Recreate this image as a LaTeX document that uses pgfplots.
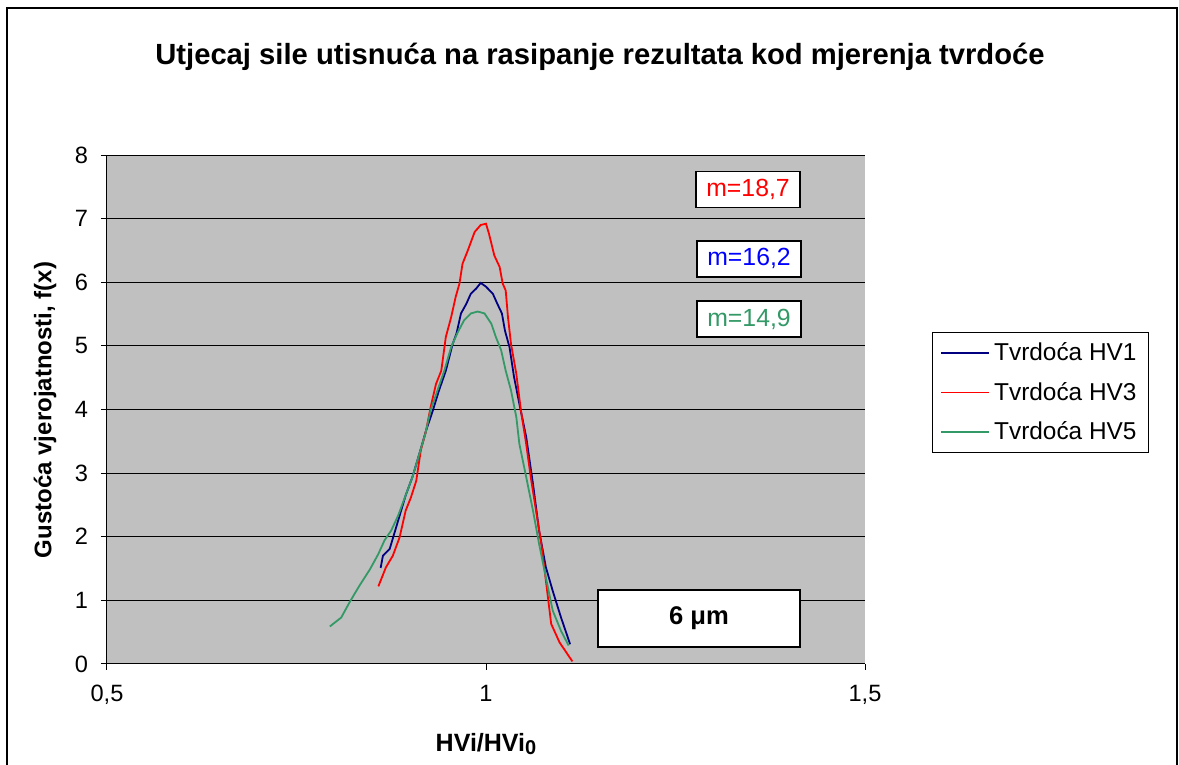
\documentclass[border=0pt]{standalone}
\usepackage{pgfplots}
\pgfplotsset{compat=1.18}
\usepackage{fontspec}
\setmainfont{Liberation Sans}
\definecolor{hvone}{HTML}{000080}
\definecolor{hvthree}{HTML}{FF0000}
\definecolor{hvfive}{HTML}{339966}
\definecolor{plotbg}{HTML}{C0C0C0}
\begin{document}
\begin{tikzpicture}
\begin{axis}[
  at={(0,0)}, anchor=south west,
  scale only axis, width=379pt, height=254.5pt,
  xmin=0.5, xmax=1.5, ymin=0, ymax=8,
  xtick={0.5,1,1.5}, xticklabels={{0,5},1,{1,5}},
  ytick={0,1,2,3,4,5,6,7,8},
  axis x line*=bottom, axis y line*=left,
  axis line style={-, black, line width=0.5pt},
  tick align=outside, tick style={black, line width=0.5pt},
  major tick length=3pt,
  ymajorgrids, grid style={black, line width=0.5pt},
  axis background/.style={fill=plotbg},
  /pgf/number format/assume math mode=true,
  tick label style={font=\fontsize{11.8}{13}\selectfont},
  xticklabel style={yshift=-4pt},
  yticklabel style={xshift=-3pt},
  legend style={at={(1.088,0.652)}, anchor=north west, draw=black, line width=0.5pt,
    font=\fontsize{12.2}{14}\selectfont, fill=white, inner xsep=4pt, inner ysep=3pt,
    row sep=5.3pt},
  legend cell align=left,
  legend image code/.code={\draw[#1, line width=0.8pt] (0cm,0cm) -- (0.85cm,0cm);},
  clip=false,
]
\addplot[hvone, line width=0.9pt] coordinates {
(0.861,1.51)(0.864,1.70)(0.873,1.81)(0.879,2.05)(0.886,2.33)(0.894,2.65)(0.903,2.94)
(0.912,3.30)(0.921,3.67)(0.930,3.99)(0.938,4.30)(0.947,4.61)(0.956,5.03)(0.961,5.19)
(0.967,5.51)(0.974,5.66)(0.980,5.82)(0.987,5.90)(0.993,5.99)(1.000,5.93)(1.009,5.82)
(1.015,5.66)(1.021,5.51)(1.025,5.24)(1.031,4.98)(1.037,4.51)(1.044,4.09)(1.053,3.57)
(1.062,2.83)(1.070,2.10)(1.079,1.52)(1.088,1.15)(1.099,0.73)(1.111,0.31)
};
\addlegendentry{Tvrdoća HV1}
\addplot[hvthree, line width=0.9pt] coordinates {
(0.858,1.22)(0.868,1.52)(0.877,1.70)(0.886,1.99)(0.894,2.41)(0.901,2.62)(0.908,2.88)
(0.914,3.36)(0.921,3.67)(0.927,4.04)(0.934,4.40)(0.941,4.61)(0.947,5.14)(0.954,5.45)
(0.960,5.77)(0.965,5.98)(0.969,6.29)(0.976,6.50)(0.985,6.79)(0.993,6.90)(1.000,6.92)
(1.004,6.76)(1.011,6.42)(1.018,6.24)(1.022,5.98)(1.026,5.87)(1.029,5.45)(1.033,5.03)
(1.040,4.56)(1.046,3.99)(1.053,3.46)(1.059,2.94)(1.066,2.41)(1.073,1.89)(1.079,1.31)
(1.086,0.63)(1.097,0.34)(1.114,0.04)
};
\addlegendentry{Tvrdoća HV3}
\addplot[hvfive, line width=0.9pt] coordinates {
(0.794,0.59)(0.809,0.73)(0.820,0.97)(0.833,1.23)(0.847,1.49)(0.858,1.73)(0.866,1.94)
(0.875,2.10)(0.884,2.33)(0.893,2.62)(0.903,2.94)(0.912,3.30)(0.920,3.62)(0.927,3.99)
(0.936,4.30)(0.945,4.61)(0.954,4.98)(0.963,5.22)(0.971,5.40)(0.980,5.51)(0.989,5.54)
(0.998,5.51)(1.007,5.35)(1.013,5.14)(1.020,4.93)(1.026,4.61)(1.033,4.30)(1.040,3.88)
(1.044,3.46)(1.053,2.94)(1.062,2.41)(1.070,1.89)(1.079,1.36)(1.088,0.84)(1.099,0.52)
(1.109,0.29)
};
\addlegendentry{Tvrdoća HV5}
\node[draw=black, line width=0.8pt, fill=white, minimum width=52pt, minimum height=18pt,
  text=hvthree, font=\fontsize{12.4}{13}\selectfont] at (axis cs:1.3457,7.46) {m=18,7};
\node[draw=black, line width=0.8pt, fill=white, minimum width=52pt, minimum height=18pt,
  text=blue, font=\fontsize{12.4}{13}\selectfont] at (axis cs:1.347,6.37) {m=16,2};
\node[draw=black, line width=0.8pt, fill=white, minimum width=52pt, minimum height=18pt,
  text=hvfive, font=\fontsize{12.4}{13}\selectfont] at (axis cs:1.347,5.42) {m=14,9};
\node[draw=black, line width=0.8pt, fill=white, minimum width=101pt, minimum height=28.5pt,
  font=\bfseries\fontsize{12.8}{14}\selectfont] at (axis cs:1.281,0.716) {6 μm};
\end{axis}
\node[font=\bfseries\fontsize{14.6}{17}\selectfont] at (246.5pt,303.5pt)
  {Utjecaj sile utisnuća na rasipanje rezultata kod mjerenja tvrdoće};
\node[font=\bfseries\fontsize{12}{14}\selectfont, rotate=90] at (-31pt,127pt)
  {Gustoća vjerojatnosti, f(x)};
\node[font=\bfseries\fontsize{12.5}{14}\selectfont] at (189.5pt,-40pt)
  {HVi/HVi\raisebox{-0.25ex}{\fontsize{10}{11}\selectfont 0}};
\draw[black, line width=0.9pt] (-50pt,-70pt) rectangle (535pt,328pt);
\pgfresetboundingbox
\useasboundingbox (-53.5pt,-50.5pt) rectangle (536pt,332pt);
\end{tikzpicture}
\end{document}
